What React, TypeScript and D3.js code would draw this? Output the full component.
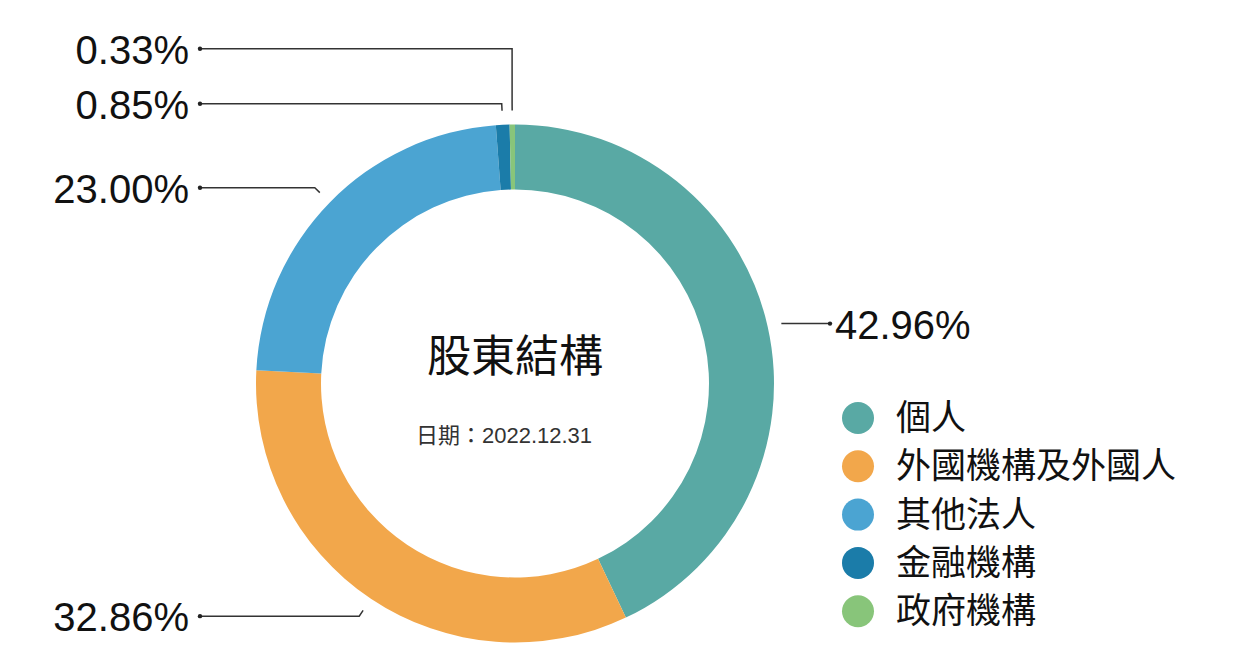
import * as d3 from "d3";
import * as React from "react";

const categories = ["個人", "外國機構及外國人", "其他法人", "金融機構", "政府機構"];
const shares = [42.96, 32.86, 23.0, 0.85, 0.33];
const colors = ["#59a9a4", "#f2a74b", "#4ba4d2", "#1b7ca9", "#88c57a"];
const title = "股東結構";
const subtitle = "日期：2022.12.31";

const width = 1245;
const height = 671;
const cx = 515;
const cy = 383.5;
const outerR = 259;
const innerR = 194;
const labelDist = 315; // label columns, from centre
const minGap = 55;

interface Slice {
  name: string;
  value: number;
}

export default function App() {
  const data: Slice[] = categories.map((c, i) => ({ name: c, value: shares[i] }));
  const pie = d3.pie<Slice>().sort(null).value((d) => d.value);
  const arcs = pie(data);
  const arc = d3.arc<d3.PieArcDatum<Slice>>().innerRadius(innerR).outerRadius(outerR);
  const color = d3.scaleOrdinal<string, string>().domain(categories).range(colors);

  // leader line points
  const pt = (a: number, r: number): [number, number] => [Math.sin(a) * r, -Math.cos(a) * r];
  let labels = arcs.map((d) => {
    const mid = (d.startAngle + d.endAngle) / 2;
    const p0 = pt(mid, outerR + 14);
    const p1 = pt(mid, outerR + 21);
    const right = mid < Math.PI;
    return { d, p0, p1, right, y: p1[1] };
  });
  // push left labels up when they collide
  const left = labels.filter((l) => !l.right).sort((a, b) => b.y - a.y);
  for (let i = 1; i < left.length; i++) {
    if (left[i].y > left[i - 1].y - minGap) left[i].y = left[i - 1].y - minGap;
  }

  return (
    <svg width={width} height={height} style={{ position: "absolute", left: 0, top: 0, background: "#fff" }}>
      <g transform={"translate(" + cx + "," + cy + ")"}>
        {arcs.map((d, i) => (
          <path key={"slice_" + i} d={arc(d) as string} fill={color(d.data.name)} />
        ))}
        {labels.map((l, i) => {
          const endX = l.right ? labelDist : -labelDist;
          const pts = l.right
            ? [l.p0, [endX, l.p0[1]]]
            : [l.p0, l.p1, [l.p1[0], l.y], [endX, l.y]];
          const ly = l.right ? l.p0[1] : l.y;
          return (
            <g key={"label_" + i}>
              <path d={d3.line()(pts as [number, number][]) as string} fill="none" stroke="#333" strokeWidth={1.5} />
              <circle cx={endX} cy={ly} r={2.2} fill="#222" />
              <text
                x={l.right ? endX + 5 : endX - 11}
                y={ly + 15}
                textAnchor={l.right ? "start" : "end"}
                fontFamily="'Liberation Sans', Arial, sans-serif"
                fontSize={40}
                fill="#111"
              >
                {l.d.data.value.toFixed(2) + "%"}
              </text>
            </g>
          );
        })}
        <text x={0} y={-12} textAnchor="middle" fontFamily="'Noto Sans CJK TC', sans-serif" fontSize={44} fill="#111">
          {title}
        </text>
        <text x={-11} y={59} textAnchor="middle" fontFamily="'Liberation Sans', 'Noto Sans CJK TC', sans-serif" fontSize={22} fill="#333">
          {subtitle}
        </text>
      </g>
      <g transform="translate(858,418)">
        {categories.map((c, i) => (
          <g key={"legend_" + i} transform={"translate(0," + i * 48.3 + ")"}>
            <circle r={16} fill={color(c)} />
            <text x={38} y={12} fontFamily="'Noto Sans CJK TC', sans-serif" fontSize={35} fill="#111">
              {c}
            </text>
          </g>
        ))}
      </g>
    </svg>
  );
}
